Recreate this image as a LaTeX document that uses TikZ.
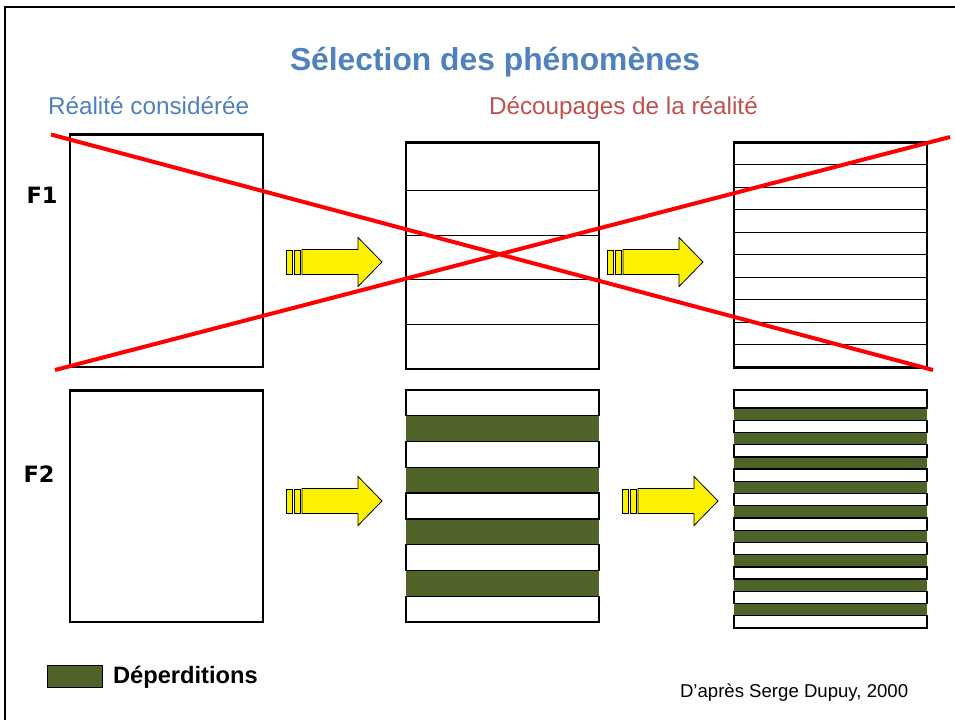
\documentclass[tikz,border=0pt]{standalone}
\usepackage{fontspec}
\setmainfont{Liberation Sans}
\newfontfamily\dejavu{DejaVu Sans}
\definecolor{olive}{RGB}{79,98,40}
\definecolor{titleblue}{RGB}{79,129,189}
\definecolor{cutred}{RGB}{192,80,77}
\tikzset{
  outer/.style={draw=black, line width=2.6pt},
  thinline/.style={draw=black, line width=1pt},
  band/.style={draw=black, line width=1.3pt, fill=white},
  cross/.style={draw=red, line width=4pt},
  txt/.style={inner sep=0pt, outer sep=0pt},
  yarr/.pic={
    \draw[fill=yellow, line width=0.8pt] (0,-12) rectangle (6,12);
    \draw[fill=yellow, line width=0.8pt] (8,-12) rectangle (14,12);
    \draw[fill=yellow, line width=0.8pt, line join=miter] (16,-12.5) -- (72,-12.5) -- (72,-24.5) -- (96,0) -- (72,24.5) -- (72,12.5) -- (16,12.5) -- cycle;
  }
}
\begin{document}
\begin{tikzpicture}[x=1pt,y=-1pt]
\useasboundingbox (0,0) rectangle (955,720);
% frame
\draw[line width=2pt] (5,720) -- (5,7) -- (955,7);
% texts
\node[txt, anchor=base, text=titleblue, font=\fontsize{31.8}{36}\selectfont\bfseries] (title) at (495,70) {Sélection des phénomènes};
\node[txt, anchor=base west, text=titleblue, font=\fontsize{24.3}{28}\selectfont] (real) at (48,114) {Réalité considérée};
\node[txt, anchor=base west, text=cutred, font=\fontsize{24.3}{28}\selectfont] (cut) at (489,114) {Découpages de la réalité};
\node[txt, anchor=base west, font=\fontsize{22.5}{26}\selectfont\dejavu\bfseries] (f1) at (26.5,203) {F1};
\node[txt, anchor=base west, font=\fontsize{22.5}{26}\selectfont\dejavu\bfseries] (f2) at (23.5,482) {F2};
% F1 row
\draw[outer] (70,134.5) rectangle (263,367);
\foreach \y in {190.3,235.3,279.7,324.3} \draw[thinline] (406,\y) -- (599,\y);
\draw[outer] (406,142.5) rectangle (599,369);
\foreach \i in {1,...,9} \draw[thinline] (734,{142.5+22.48*\i}) -- (927,{142.5+22.48*\i});
\draw[outer] (734,142.5) rectangle (927,367.3);
\pic at (286,262) {yarr};
\pic at (607,262) {yarr};
% F2 row
\draw[outer] (70,390.5) rectangle (263,622);
\fill[olive] (406,390) rectangle (599,622);
\foreach \k in {0,2,4,6,8} \draw[band] (406,{390+25.78*\k}) rectangle (599,{390+25.78*(\k+1)});
\fill[olive] (734,408) rectangle (927,628);
\draw[band] (734,390) rectangle (927,408);
\foreach \k in {0,...,8} \draw[band] (734,{408+12.22*(2*\k+1)}) rectangle (927,{408+12.22*(2*\k+2)});
\pic at (286,501) {yarr};
\pic at (622,501) {yarr};
% crossing lines
\draw[cross] (51,134.5) -- (933,370);
\draw[cross] (55,370) -- (950,137);
% legend
\draw[fill=olive, line width=0.8pt] (47,665) rectangle (102,687);
\node[txt, anchor=base west, font=\fontsize{23.7}{28}\selectfont\bfseries] (lg) at (113,683.5) {Déperditions};
\node[txt, anchor=base west, font=\fontsize{18.6}{22}\selectfont] (src) at (680,697) {D’après Serge Dupuy, 2000};
\end{tikzpicture}
\end{document}
